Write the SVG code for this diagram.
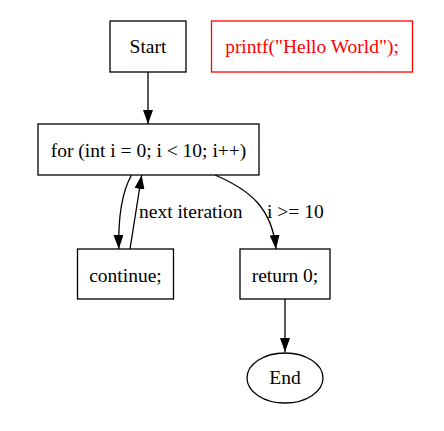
<svg xmlns="http://www.w3.org/2000/svg" width="444" height="431" viewBox="0 0 444 431">
<defs>
<marker id="ah" viewBox="0 0 14 10" refX="14" refY="5" markerWidth="14" markerHeight="10" markerUnits="userSpaceOnUse" orient="auto">
<path d="M0,0 L14,5 L0,10 Z" fill="#000"/>
</marker>
<style>
.box{fill:#fff;stroke:#000;stroke-width:1.3}
.red{stroke:#f00}
text.redt{fill:#f00}
.edge{fill:none;stroke:#000;stroke-width:1.3;marker-end:url(#ah)}
</style>
</defs>
<rect width="444" height="431" fill="#fff"/>
<g font-family="'Liberation Serif', 'Times New Roman', serif" font-size="19.5" fill="#000">
<g id="connectors">
<path class="edge" d="M148,72 L148,124"/>
<path class="edge" d="M131.5,175 C122,192 118,215 118.8,249"/>
<path class="edge" d="M130,249 L141.7,175"/>
<path class="edge" d="M215,175 C250,190 272,208 276,249"/>
<path class="edge" d="M285,299 L285,352"/>
<text x="139" y="217.5">next iteration</text>
<text x="267" y="217.5">i &gt;= 10</text>
</g>
<g id="start">
<rect class="box" x="110" y="21" width="76" height="51"/>
<text x="148" y="53" text-anchor="middle">Start</text>
</g>
<g id="printf">
<rect class="box red" x="211.5" y="21" width="201" height="51"/>
<text class="redt" x="312" y="53" text-anchor="middle">printf("Hello World");</text>
</g>
<g id="for">
<rect class="box" x="38" y="124" width="221" height="51"/>
<text x="148.5" y="156.5" text-anchor="middle">for (int i = 0; i &lt; 10; i++)</text>
</g>
<g id="continue">
<rect class="box" x="77.5" y="249" width="96" height="50"/>
<text x="125.5" y="281.5" text-anchor="middle">continue;</text>
</g>
<g id="return">
<rect class="box" x="240" y="249" width="90" height="50"/>
<text x="285" y="281.5" text-anchor="middle">return 0;</text>
</g>
<g id="end">
<ellipse class="box" cx="285" cy="378" rx="38" ry="25"/>
<text x="285" y="383.5" text-anchor="middle">End</text>
</g>
</g>
</svg>
